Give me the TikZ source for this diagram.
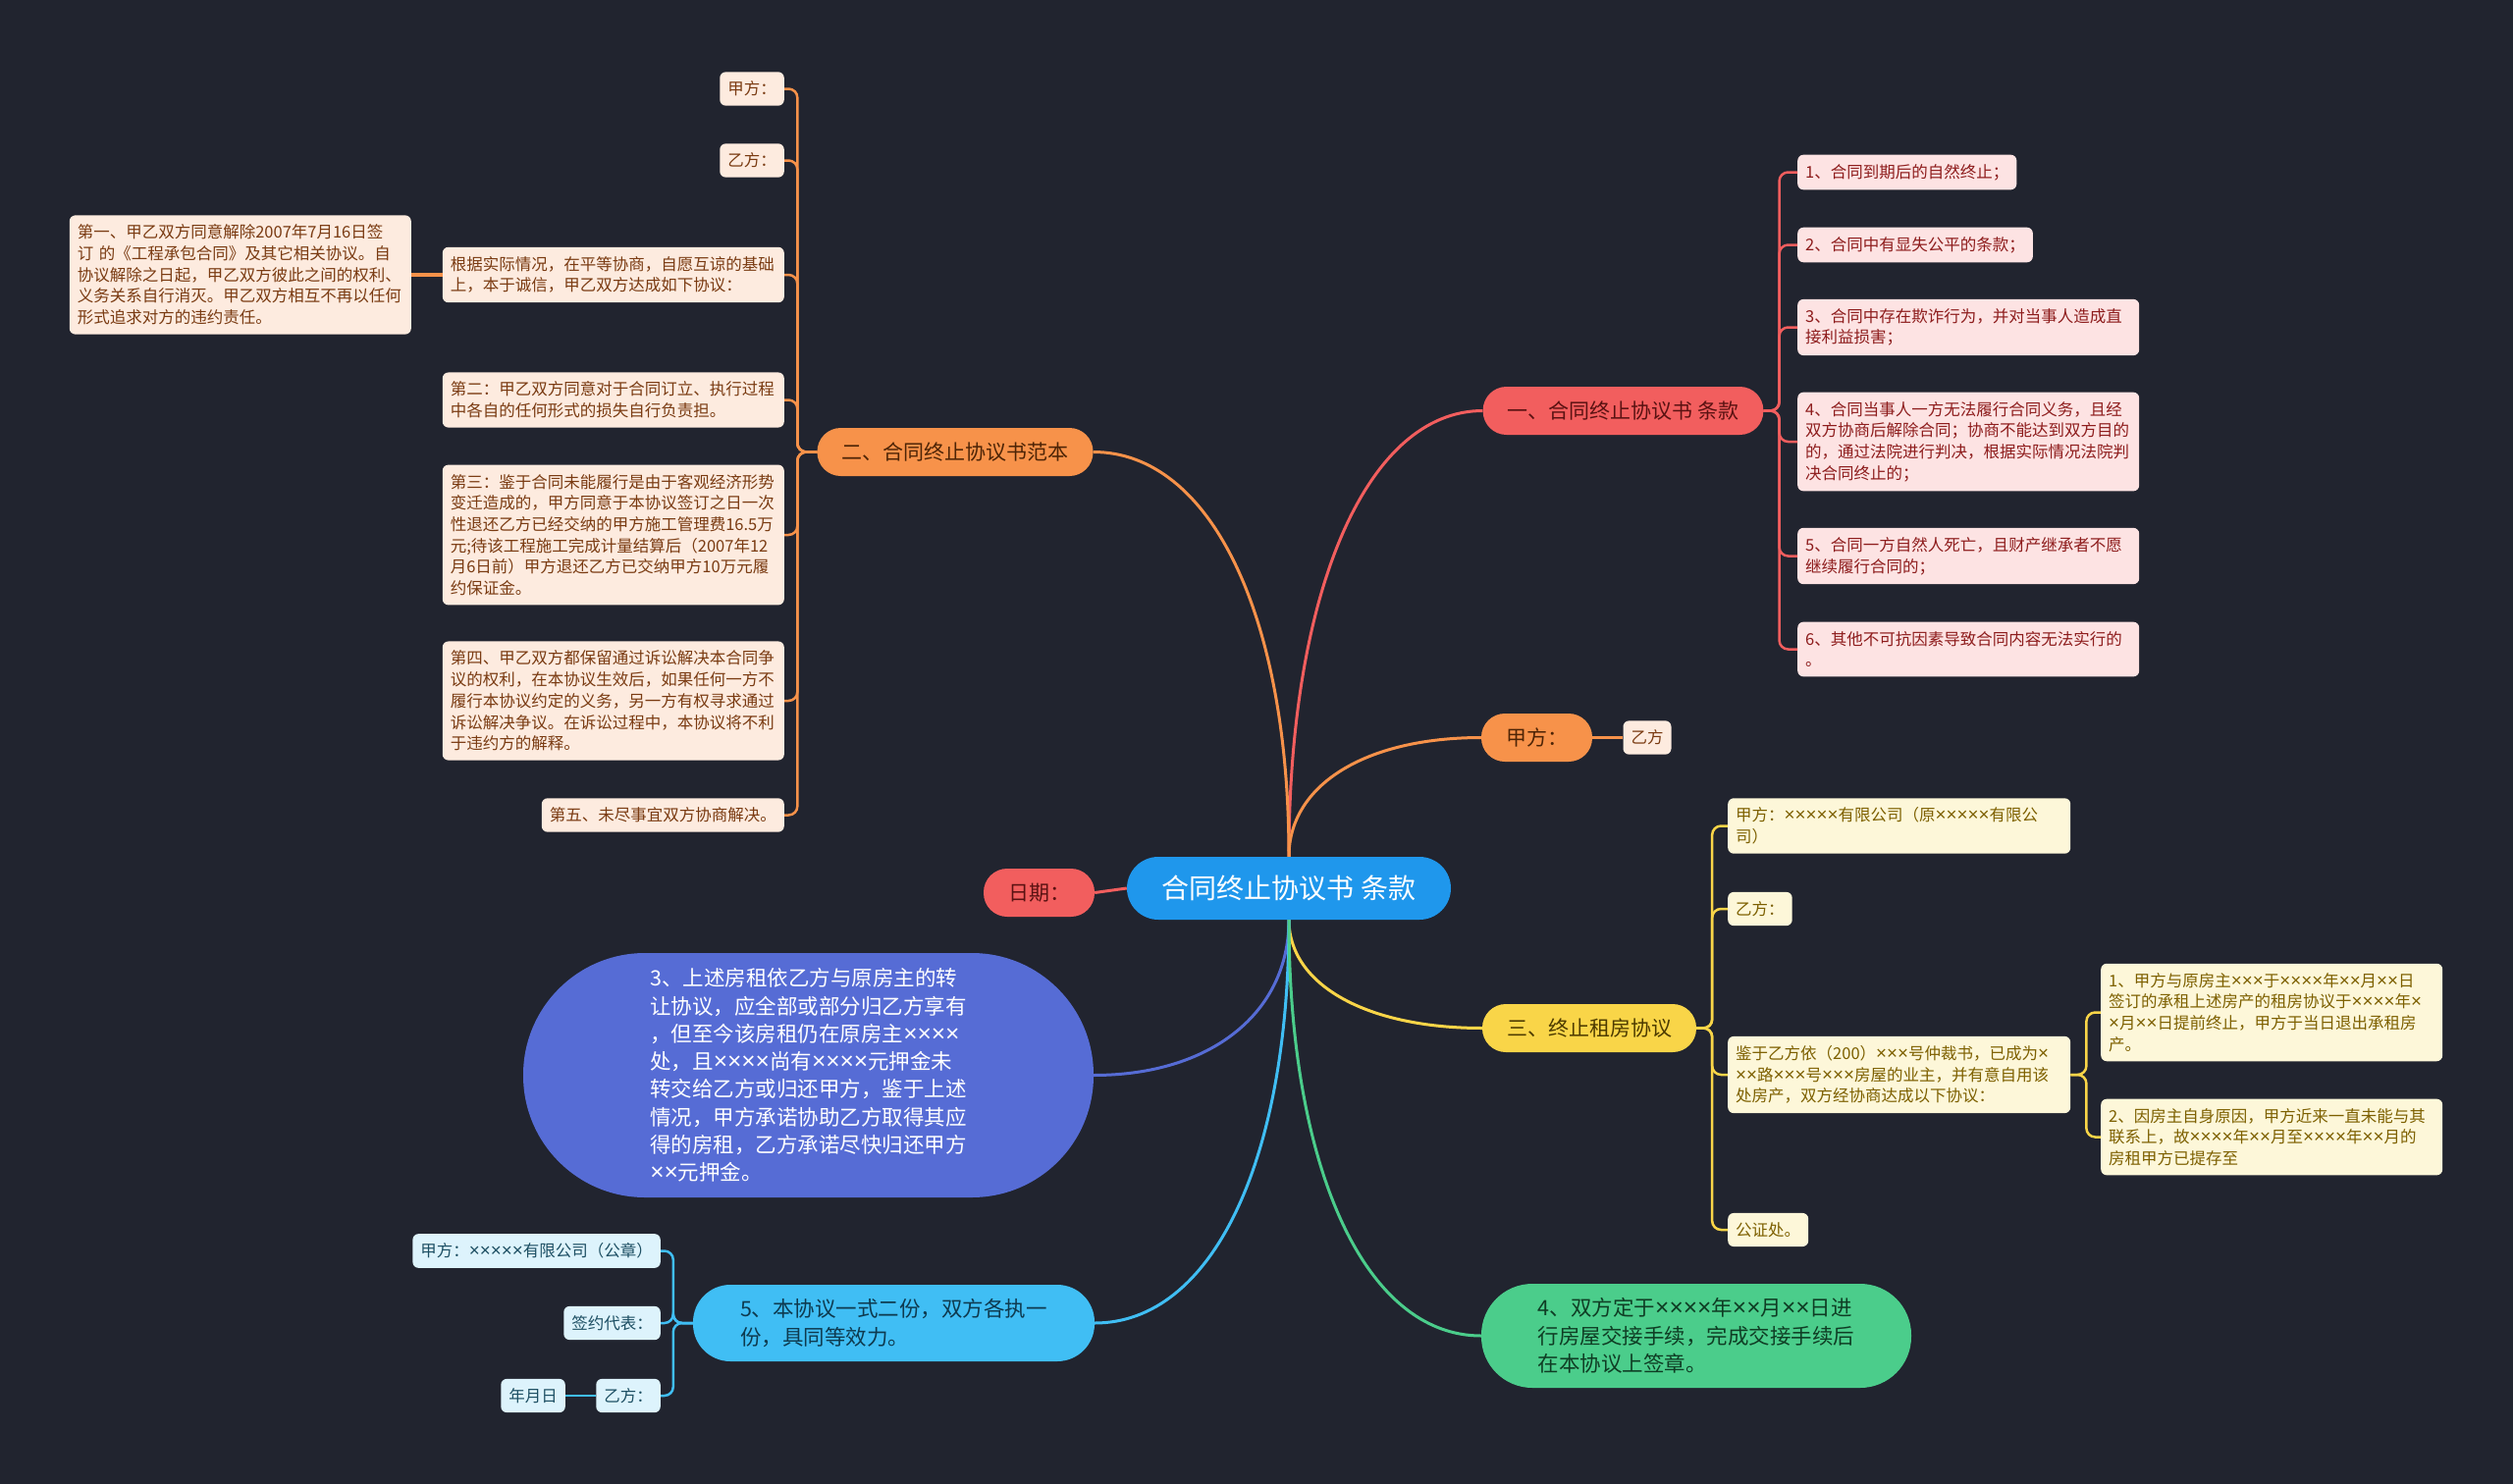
\documentclass[tikz,border=0pt]{standalone}
\usepackage{fontspec}
\setmainfont{Noto Sans CJK SC}
\newfontfamily\timesfont[Scale=1.14]{Liberation Sans}
\begingroup\lccode`\~=`\×\lowercase{\endgroup\def~}{{\timesfont\char"D7}}
\catcode`\×=\active
\definecolor{bgDark}{HTML}{21242F}
\definecolor{rootBlue}{HTML}{1F97EC}
\definecolor{redA}{HTML}{F25E5E}
\definecolor{redInk}{HTML}{5A1212}
\definecolor{redL}{HTML}{FDE3E3}
\definecolor{redT}{HTML}{8E1D1D}
\definecolor{orgA}{HTML}{F7924A}
\definecolor{orgInk}{HTML}{4D2406}
\definecolor{orgL}{HTML}{FDEBDF}
\definecolor{orgT}{HTML}{7A3B12}
\definecolor{yelA}{HTML}{F9D548}
\definecolor{yelInk}{HTML}{4D3B00}
\definecolor{yelL}{HTML}{FDF7D9}
\definecolor{yelT}{HTML}{7D6000}
\definecolor{indA}{HTML}{566CD5}
\definecolor{cyaA}{HTML}{40BEF4}
\definecolor{cyaInk}{HTML}{0E3A4F}
\definecolor{cyaL}{HTML}{DDF3FC}
\definecolor{cyaT}{HTML}{1D4F63}
\definecolor{grnA}{HTML}{4BCD8B}
\definecolor{grnInk}{HTML}{0F3D24}

\begin{document}
\begin{tikzpicture}[x=1pt, y=-1pt,
    pill/.style={rounded corners=24pt, minimum height=49pt, inner xsep=25pt, inner ysep=0pt, font=\fontsize{21}{27}\selectfont},
    big/.style={align=left, font=\fontsize{21.5}{28.3}\selectfont},
    leaf/.style={rounded corners=6pt, inner xsep=8pt, inner ysep=9.5pt, align=left, font=\fontsize{16.5}{21.7}\selectfont},
    link/.style={line width=3pt},
    twig/.style={line width=2.5pt, rounded corners=9pt}]
    \useasboundingbox(0,0) rectangle (2560,1512);
    \fill[bgDark](0,0) rectangle (2560,1512);

    \node[pill, fill=rootBlue, text=white, minimum width=330pt, minimum height=64pt, rounded corners=32pt, font=\fontsize{28}{34}\selectfont] (root) at (1313,905){合同终止协议书 条款};
    \node[pill, fill=redA, text=redInk] (b1) at (1653.5,418.5){一、合同终止协议书 条款};
    \node[pill, fill=orgA, text=orgInk] (b2) at (973,460.5){二、合同终止协议书范本};
    \node[pill, fill=orgA, text=orgInk] (b3) at (1565.5,751.5){甲方：};
    \node[pill, fill=redA, text=redInk] (date) at (1058.5,909.5){日期：};
    \node[pill, fill=yelA, text=yelInk] (b4) at (1619,1047.5){三、终止租房协议};
    \node[big, fill=indA, text=white, minimum width=581pt, minimum height=249pt, rounded corners=124pt] (b5) at (823.5,1095.5){3、上述房租依乙方与原房主的转\\让协议，应全部或部分归乙方享有\\，但至今该房租仍在原房主××××\\处，且××××尚有××××元押金未\\转交给乙方或归还甲方，鉴于上述\\情况，甲方承诺协助乙方取得其应\\得的房租，乙方承诺尽快归还甲方\\××元押金。};
    \node[big, fill=cyaA, text=cyaInk, minimum width=409pt, minimum height=78pt, rounded corners=38pt] (b6) at (910.5,1348){5、本协议一式二份，双方各执一\\份，具同等效力。};
    \node[big, fill=grnA, text=grnInk, minimum width=438pt, minimum height=106pt, rounded corners=52pt] (b7) at (1728,1361){4、双方定于××××年××月××日进\\行房屋交接手续，完成交接手续后\\在本协议上签章。};

    \node[leaf, fill=redL, text=redT, anchor=west] (a1) at (1831,175.5){1、合同到期后的自然终止；};
    \node[leaf, fill=redL, text=redT, anchor=west] (a2) at (1831,249.5){2、合同中有显失公平的条款；};
    \node[leaf, fill=redL, text=redT, anchor=west, text width=332pt] (a3) at (1831,333.5){3、合同中存在欺诈行为，并对当事人造成直\\接利益损害；};
    \node[leaf, fill=redL, text=redT, anchor=west, text width=332pt] (a4) at (1831,450){4、合同当事人一方无法履行合同义务，且经\\双方协商后解除合同；协商不能达到双方目的\\的，通过法院进行判决，根据实际情况法院判\\决合同终止的；};
    \node[leaf, fill=redL, text=redT, anchor=west, text width=332pt] (a5) at (1831,566.5){5、合同一方自然人死亡，且财产继承者不愿\\继续履行合同的；};
    \node[leaf, fill=redL, text=redT, anchor=west, text width=332pt] (a6) at (1831,661.5){6、其他不可抗因素导致合同内容无法实行的\\。};

    \node[leaf, fill=orgL, text=orgT, anchor=east] (c1) at (799,90.5){甲方：};
    \node[leaf, fill=orgL, text=orgT, anchor=east] (c2) at (799,163.5){乙方：};
    \node[leaf, fill=orgL, text=orgT, anchor=east, text width=332pt] (c3) at (799,280){根据实际情况，在平等协商，自愿互谅的基础\\上，本于诚信，甲乙双方达成如下协议：};
    \node[leaf, fill=orgL, text=orgT, anchor=east, text width=332pt] (c3a) at (419,280){第一、甲乙双方同意解除2007年7月16日签\\订 的《工程承包合同》及其它相关协议。自\\协议解除之日起，甲乙双方彼此之间的权利、\\义务关系自行消灭。甲乙双方相互不再以任何\\形式追求对方的违约责任。};
    \node[leaf, fill=orgL, text=orgT, anchor=east, text width=332pt] (c4) at (799,407.5){第二：甲乙双方同意对于合同订立、执行过程\\中各自的任何形式的损失自行负责担。};
    \node[leaf, fill=orgL, text=orgT, anchor=east, text width=332pt] (c5) at (799,545){第三：鉴于合同未能履行是由于客观经济形势\\变迁造成的，甲方同意于本协议签订之日一次\\性退还乙方已经交纳的甲方施工管理费16.5万\\元;待该工程施工完成计量结算后（2007年12\\月6日前）甲方退还乙方已交纳甲方10万元履\\约保证金。};
    \node[leaf, fill=orgL, text=orgT, anchor=east, text width=332pt] (c6) at (799,714){第四、甲乙双方都保留通过诉讼解决本合同争\\议的权利，在本协议生效后，如果任何一方不\\履行本协议约定的义务，另一方有权寻求通过\\诉讼解决争议。在诉讼过程中，本协议将不利\\于违约方的解释。};
    \node[leaf, fill=orgL, text=orgT, anchor=east] (c7) at (799,830.5){第五、未尽事宜双方协商解决。};
    \node[leaf, fill=orgL, text=orgT] (b3a) at (1678,751.5){乙方};

    \node[leaf, fill=yelL, text=yelT, anchor=west, text width=333pt] (d1) at (1760,841.5){甲方：×××××有限公司（原×××××有限公\\司）};
    \node[leaf, fill=yelL, text=yelT, anchor=west] (d2) at (1760,926){乙方：};
    \node[leaf, fill=yelL, text=yelT, anchor=west, text width=333pt] (d3) at (1760,1095){鉴于乙方依（200）×××号仲裁书，已成为×\\××路×××号×××房屋的业主，并有意自用该\\处房产，双方经协商达成以下协议：};
    \node[leaf, fill=yelL, text=yelT, anchor=west] (d4) at (1760,1253){公证处。};
    \node[leaf, fill=yelL, text=yelT, anchor=west, text width=332pt] (e1) at (2140,1031.5){1、甲方与原房主×××于××××年××月××日\\签订的承租上述房产的租房协议于××××年×\\×月××日提前终止，甲方于当日退出承租房\\产。};
    \node[leaf, fill=yelL, text=yelT, anchor=west, text width=332pt] (e2) at (2140,1158.5){2、因房主自身原因，甲方近来一直未能与其\\联系上，故××××年××月至××××年××月的\\房租甲方已提存至};

    \node[leaf, fill=cyaL, text=cyaT, anchor=east] (f1) at (673,1274.5){甲方：×××××有限公司（公章）};
    \node[leaf, fill=cyaL, text=cyaT, anchor=east] (f2) at (673,1348){签约代表：};
    \node[leaf, fill=cyaL, text=cyaT, anchor=east] (f3) at (673,1422){乙方：};
    \node[leaf, fill=cyaL, text=cyaT, anchor=east] (f3a) at (576,1422){年月日};

    \draw[link, redA](root.north) .. controls +(0,-273) and +(-117,0) .. (b1.west);
    \draw[link, orgA](root.north) .. controls +(0,-247) and +(119,0) .. (b2.east);
    \draw[link, orgA](root.north) .. controls +(0,-73) and +(-118,0) .. (b3.west);
    \draw[link, redA](root.west)--(date.east);
    \draw[link, yelA](root.south) .. controls +(0,66) and +(-118,0) .. (b4.west);
    \draw[link, indA](root.south) .. controls +(0,95) and +(119,0) .. (b5.east);
    \draw[link, cyaA](root.south) .. controls +(0,247) and +(119,0) .. (b6.east);
    \draw[link, grnA](root.south) .. controls +(0,254) and +(-118,0) .. (b7.west);

    \foreach \nd in {a1,a2,a3,a4,a5,a6}{%
      \draw[twig, redA](b1.east)--++(16,0)|-(\nd.west);}
    \foreach \nd in {c1,c2,c3,c4,c5,c6,c7}{%
      \draw[twig, orgA](b2.west)--++(-20,0)|-(\nd.east);}
    \draw[twig, orgA, line width=4pt](c3.west)--(c3a.east);
    \draw[twig, orgA](b3.east)--(b3a.west);
    \foreach \nd in {d1,d2,d3,d4}{%
      \draw[twig, yelA](b4.east)--++(16,0)|-(\nd.west);}
    \foreach \nd in {e1,e2}{%
      \draw[twig, yelA](d3.east)--++(16,0)|-(\nd.west);}
    \foreach \nd in {f1,f2,f3}{%
      \draw[twig, cyaA](b6.west)--++(-20,0)|-(\nd.east);}
    \draw[twig, cyaA](f3.west)--(f3a.east);
  \end{tikzpicture}
\end{document}
